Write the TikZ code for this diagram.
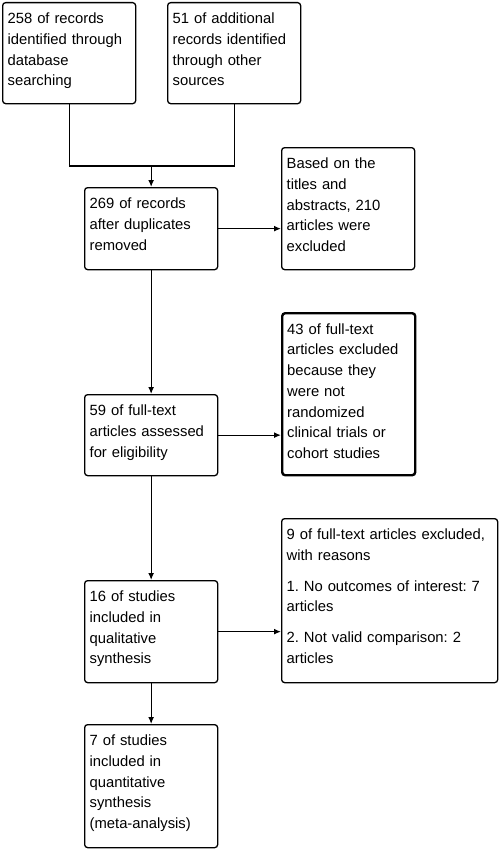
\documentclass[tikz,border=0pt]{standalone}
\usepackage{fontspec}
\setmainfont{Liberation Sans}
\usetikzlibrary{arrows.meta}
\frenchspacing

\begin{document}
\begin{tikzpicture}[x=1pt,y=-1pt,line width=1.3pt,
    font=\fontsize{14.8}{20.7}\selectfont,
    box/.style={draw,rounded corners=3pt,anchor=north west,align=left,text width=123pt,
      inner xsep=5pt,inner ysep=0pt,text height=21pt,text depth=#1},
    wide/.style={text width=206pt},
    flow/.style={-{Latex[length=7pt,width=6pt]}}]
    \useasboundingbox (0,0) rectangle (500,851);
    \node[box=80pt] (dbase) at (2,2) {258 of records\\identified through\\database\\searching};
    \node[box=80pt] (other) at (167,2) {51 of additional\\records identified\\through other\\sources};
    \node[box=61pt] (dedup) at (84,187) {269 of records\\after duplicates\\removed};
    \node[box=101pt] (titles) at (281,147) {Based on the\\titles and\\abstracts, 210\\articles were\\excluded};
    \node[box=60pt] (fulltext) at (84,394) {59 of full-text\\articles assessed\\for eligibility};
    \node[box=141pt,line width=2.4pt] (notrct) at (281,312) {43 of full-text\\articles excluded\\because they\\were not\\randomized\\clinical trials or\\cohort studies};
    \node[box=81pt] (quali) at (84,580) {16 of studies\\included in\\qualitative\\synthesis};
    \node[box=143pt,wide] (reasons) at (281,518) {9 of full-text articles excluded,\\with reasons\\[10pt]1. No outcomes of interest: 7\\articles\\[10pt]2. Not valid comparison: 2\\articles};
    \node[box=102pt] (quanti) at (84,724) {7 of studies\\included in\\quantitative\\synthesis\\(meta-analysis)};

    \path (dedup.north) ++(0,-21) coordinate (merge);
    \draw (dbase.south) |- (merge) -| (other.south);
    \draw[flow] (merge) -- (dedup.north);
    \draw[flow] (dedup.east) -- (dedup.east -| titles.west);
    \draw[flow] (dedup) -- (fulltext);
    \draw[flow] (fulltext.east) -- (fulltext.east -| notrct.west);
    \draw[flow] (fulltext) -- (quali);
    \draw[flow] (quali.east) -- (quali.east -| reasons.west);
    \draw[flow] (quali) -- (quanti);
\end{tikzpicture}
\end{document}
